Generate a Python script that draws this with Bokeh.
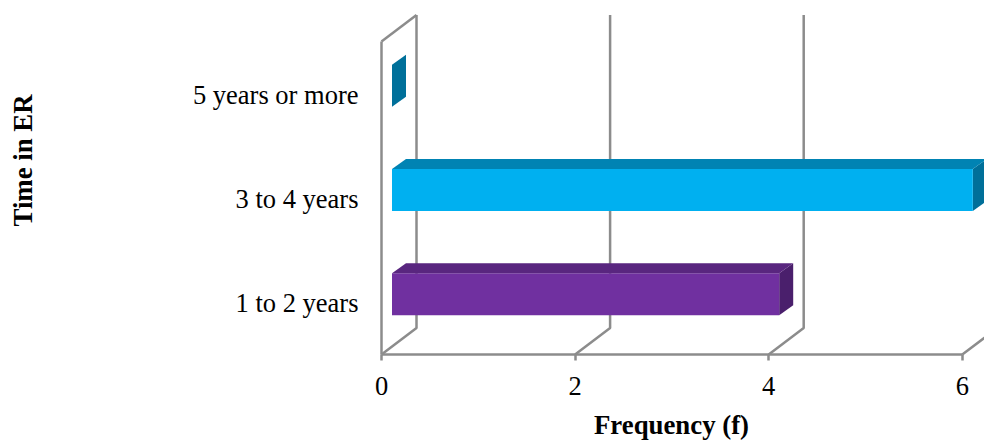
from bokeh.embed import file_html
from bokeh.models import FixedTicker, Label, Range1d
from bokeh.plotting import figure
from bokeh.resources import INLINE

categories = ["1 to 2 years", "3 to 4 years", "5 years or more"]
frequency = [4, 6, 0]
front_colors = ["#7030A0", "#00B0F0", "#0083B3"]
top_colors = ["#59267F", "#0083B3", "#0083B3"]
side_colors = ["#4A1F6C", "#006F99", "#00709A"]
x_ticks = [0, 2, 4, 6]

# Pixel scale and origin of the chart on the canvas
PX_X = 96.8
PX_Y = 104.33
WIDTH, HEIGHT = 984, 440
ORIGIN_X, ORIGIN_Y = 381, 354

# Oblique projection offsets, in data units
WALL_DX, WALL_DY = 35 / PX_X, 26.5 / PX_Y
BAR_SHIFT_X, BAR_SHIFT_Y = 10.5 / PX_X, 8 / PX_Y
BAR_DX, BAR_DY = 14 / PX_X, 10 / PX_Y
BAR_HALF = 21 / PX_Y
LABEL_NUDGE = 1 / PX_Y
N = len(categories)


def data_x(px):
    return (px - ORIGIN_X) / PX_X


def data_y(py):
    return (ORIGIN_Y - py) / PX_Y


# The frame fills the canvas; both axes are pinned to the data origin
p = figure(
    width=WIDTH, height=HEIGHT, output_backend="svg", toolbar_location=None,
    x_range=Range1d(data_x(0), data_x(WIDTH)),
    y_range=Range1d(data_y(HEIGHT), data_y(0)),
    min_border=0, outline_line_color=None, background_fill_color="white",
)
p.grid.visible = False

AXIS_COLOR = "#8C8C8C"
FONT = "Liberation Serif"
LINE_W = 2.5

# Walls and floor guides of the 3-D box
xs, ys = [], []
for t in x_ticks:
    xs.append([t, t + WALL_DX, t + WALL_DX])
    ys.append([0, WALL_DY, N + WALL_DY])
xs.append([0, WALL_DX])
ys.append([N, N + WALL_DY])
p.multi_line(xs, ys, line_color=AXIS_COLOR, line_width=LINE_W)

# Bars: front, top and side faces built from each value
for i, v in enumerate(frequency):
    x0 = BAR_SHIFT_X
    x1 = v + BAR_SHIFT_X
    yb = i + 0.5 + BAR_SHIFT_Y - BAR_HALF
    yt = i + 0.5 + BAR_SHIFT_Y + BAR_HALF
    p.patch([x1, x1 + BAR_DX, x1 + BAR_DX, x1],
            [yb, yb + BAR_DY, yt + BAR_DY, yt],
            fill_color=side_colors[i], line_color=None)
    if v > 0:
        p.patch([x0, x1, x1, x0], [yb, yb, yt, yt],
                fill_color=front_colors[i], line_color=None)
        p.patch([x0, x1, x1 + BAR_DX, x0 + BAR_DX],
                [yt, yt, yt + BAR_DY, yt + BAR_DY],
                fill_color=top_colors[i], line_color=None)

xa = p.xaxis[0]
xa.fixed_location = 0
xa.ticker = FixedTicker(ticks=x_ticks)
xa.bounds = (0, 6)
xa.axis_line_color = AXIS_COLOR
xa.axis_line_width = LINE_W
xa.major_tick_line_color = AXIS_COLOR
xa.major_tick_line_width = LINE_W
xa.major_tick_in = 0
xa.major_tick_out = 6
xa.minor_tick_line_color = None
xa.major_label_text_font = FONT
xa.major_label_text_font_size = "26.5px"
xa.major_label_text_color = "black"
xa.major_label_standoff = 16

ya = p.yaxis[0]
ya.fixed_location = 0
tick_positions = [i + 0.5 - LABEL_NUDGE for i in range(N)]
ya.ticker = FixedTicker(ticks=tick_positions)
ya.major_label_overrides = dict(zip(tick_positions, categories))
ya.bounds = (0, N)
ya.axis_line_color = AXIS_COLOR
ya.axis_line_width = LINE_W
ya.major_tick_line_color = None
ya.minor_tick_line_color = None
ya.major_tick_in = 0
ya.major_tick_out = 0
ya.major_label_text_font = FONT
ya.major_label_text_font_size = "26.5px"
ya.major_label_text_color = "black"
ya.major_label_standoff = 23

# Axis titles sit off-centre from the frame, so they are placed as labels
p.add_layout(Label(
    x=data_x(671), y=data_y(424), text="Frequency (f)",
    text_font=FONT, text_font_style="bold", text_font_size="26.8px",
    text_align="center", text_baseline="middle", text_color="black",
))
p.add_layout(Label(
    x=data_x(22), y=data_y(160), text="Time in ER", angle=90, angle_units="deg",
    text_font=FONT, text_font_style="bold", text_font_size="26.8px",
    text_align="center", text_baseline="middle", text_color="black",
))

open("out.html", "w").write(file_html(p, INLINE))
